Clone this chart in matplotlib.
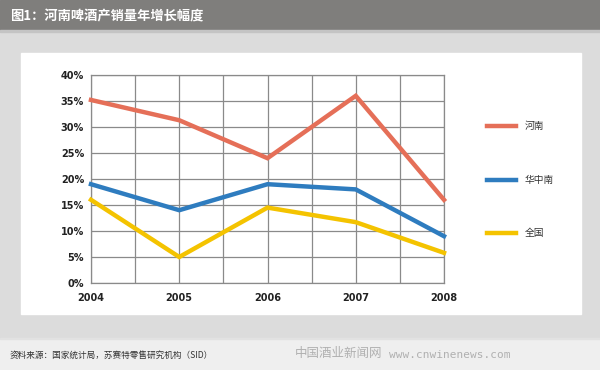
import matplotlib
matplotlib.use("Agg")
import matplotlib.pyplot as plt
from matplotlib.patches import Rectangle

plt.rcParams['font.family'] = ['Noto Sans CJK SC', 'DejaVu Sans']

years = [2004, 2005, 2006, 2007, 2008]
henan = [35.2, 31.3, 24.0, 36.0, 16.0]
huazhongnan = [19.0, 14.0, 19.0, 18.0, 9.0]
quanguo = [16.0, 5.0, 14.5, 11.7, 5.8]
series_names = ['河南', '华中南', '全国']
colors = ['#e56f58', '#2e7cbf', '#f4c300']
yticks = [0, 5, 10, 15, 20, 25, 30, 35, 40]

W, H = 600, 370
fig = plt.figure(figsize=(6, 3.7), dpi=100)
fig.patch.set_facecolor('#dcdcdc')

def frect(x, y, w, h, color):
    fig.patches.append(Rectangle((x / W, 1 - (y + h) / H), w / W, h / H,
                                 transform=fig.transFigure, color=color, zorder=-5))

frect(0, 0, 600, 30, '#7f7e7c')
frect(0, 30, 600, 2, '#c4c4c4')
frect(21, 53, 560, 261, '#ffffff')
frect(0, 339, 600, 31, '#efefef')
frect(0, 338, 600, 1, '#e2e2e2')

fig.text(10 / W, 1 - 16 / H, '图1：河南啤酒产销量年增长幅度', color='white',
         fontsize=9.5, fontweight='bold', va='center', ha='left')
fig.text(10 / W, 1 - 355 / H, '资料来源：国家统计局，苏赛特零售研究机构（SID）', color='#333333',
         fontsize=6.2, va='center', ha='left')
fig.text(295 / W, 1 - 354 / H, '中国酒业新闻网', color='#b0b0b0',
         fontsize=9, va='center', ha='left')
fig.text(389 / W, 1 - 355 / H, 'www.cnwinenews.com', color='#b0b0b0',
         fontsize=8, va='center', ha='left', family='DejaVu Sans Mono')

ax_l, ax_r, ax_t, ax_b = 91, 444, 75, 283
ax = fig.add_axes([ax_l / W, 1 - ax_b / H, (ax_r - ax_l) / W, (ax_b - ax_t) / H])
ax.set_zorder(5)
ax.set_facecolor('white')

data = [henan, huazhongnan, quanguo]
for name, vals, c in zip(series_names, data, colors):
    ax.plot(years, vals, color=c, lw=3.2, solid_joinstyle='miter', label=name, zorder=3,
            clip_on=False)

ax.set_xlim(2004, 2008)
ax.set_ylim(0, 40)
ax.set_xticks(years)
ax.set_xticks([2004.5, 2005.5, 2006.5, 2007.5], minor=True)
ax.set_yticks(yticks)
ax.set_yticklabels([f'{v}%' for v in yticks])
ax.set_xticklabels([str(y) for y in years])
ax.grid(True, which='both', color='#8a8a8a', lw=0.9)
for s in ax.spines.values():
    s.set_color('#8a8a8a')
    s.set_linewidth(0.9)
ax.tick_params(which='both', length=0)
ax.tick_params(axis='x', pad=7, labelsize=7, colors='#222222')
ax.tick_params(axis='y', pad=5, labelsize=7, colors='#222222')
for lab in ax.get_xticklabels() + ax.get_yticklabels():
    lab.set_fontweight('bold')
    lab.set_family('DejaVu Sans')

leg_ys = [126, 180, 233]
for name, c, ly in zip(series_names, colors, leg_ys):
    fig.lines.append(plt.Line2D([487 / W, 516 / W], [1 - ly / H, 1 - ly / H],
                                transform=fig.transFigure, color=c, lw=3.2))
    fig.text(525 / W, 1 - ly / H, name, fontsize=7, color='#333333', va='center', ha='left')

fig.savefig('out.png', dpi=100, facecolor=fig.get_facecolor())
